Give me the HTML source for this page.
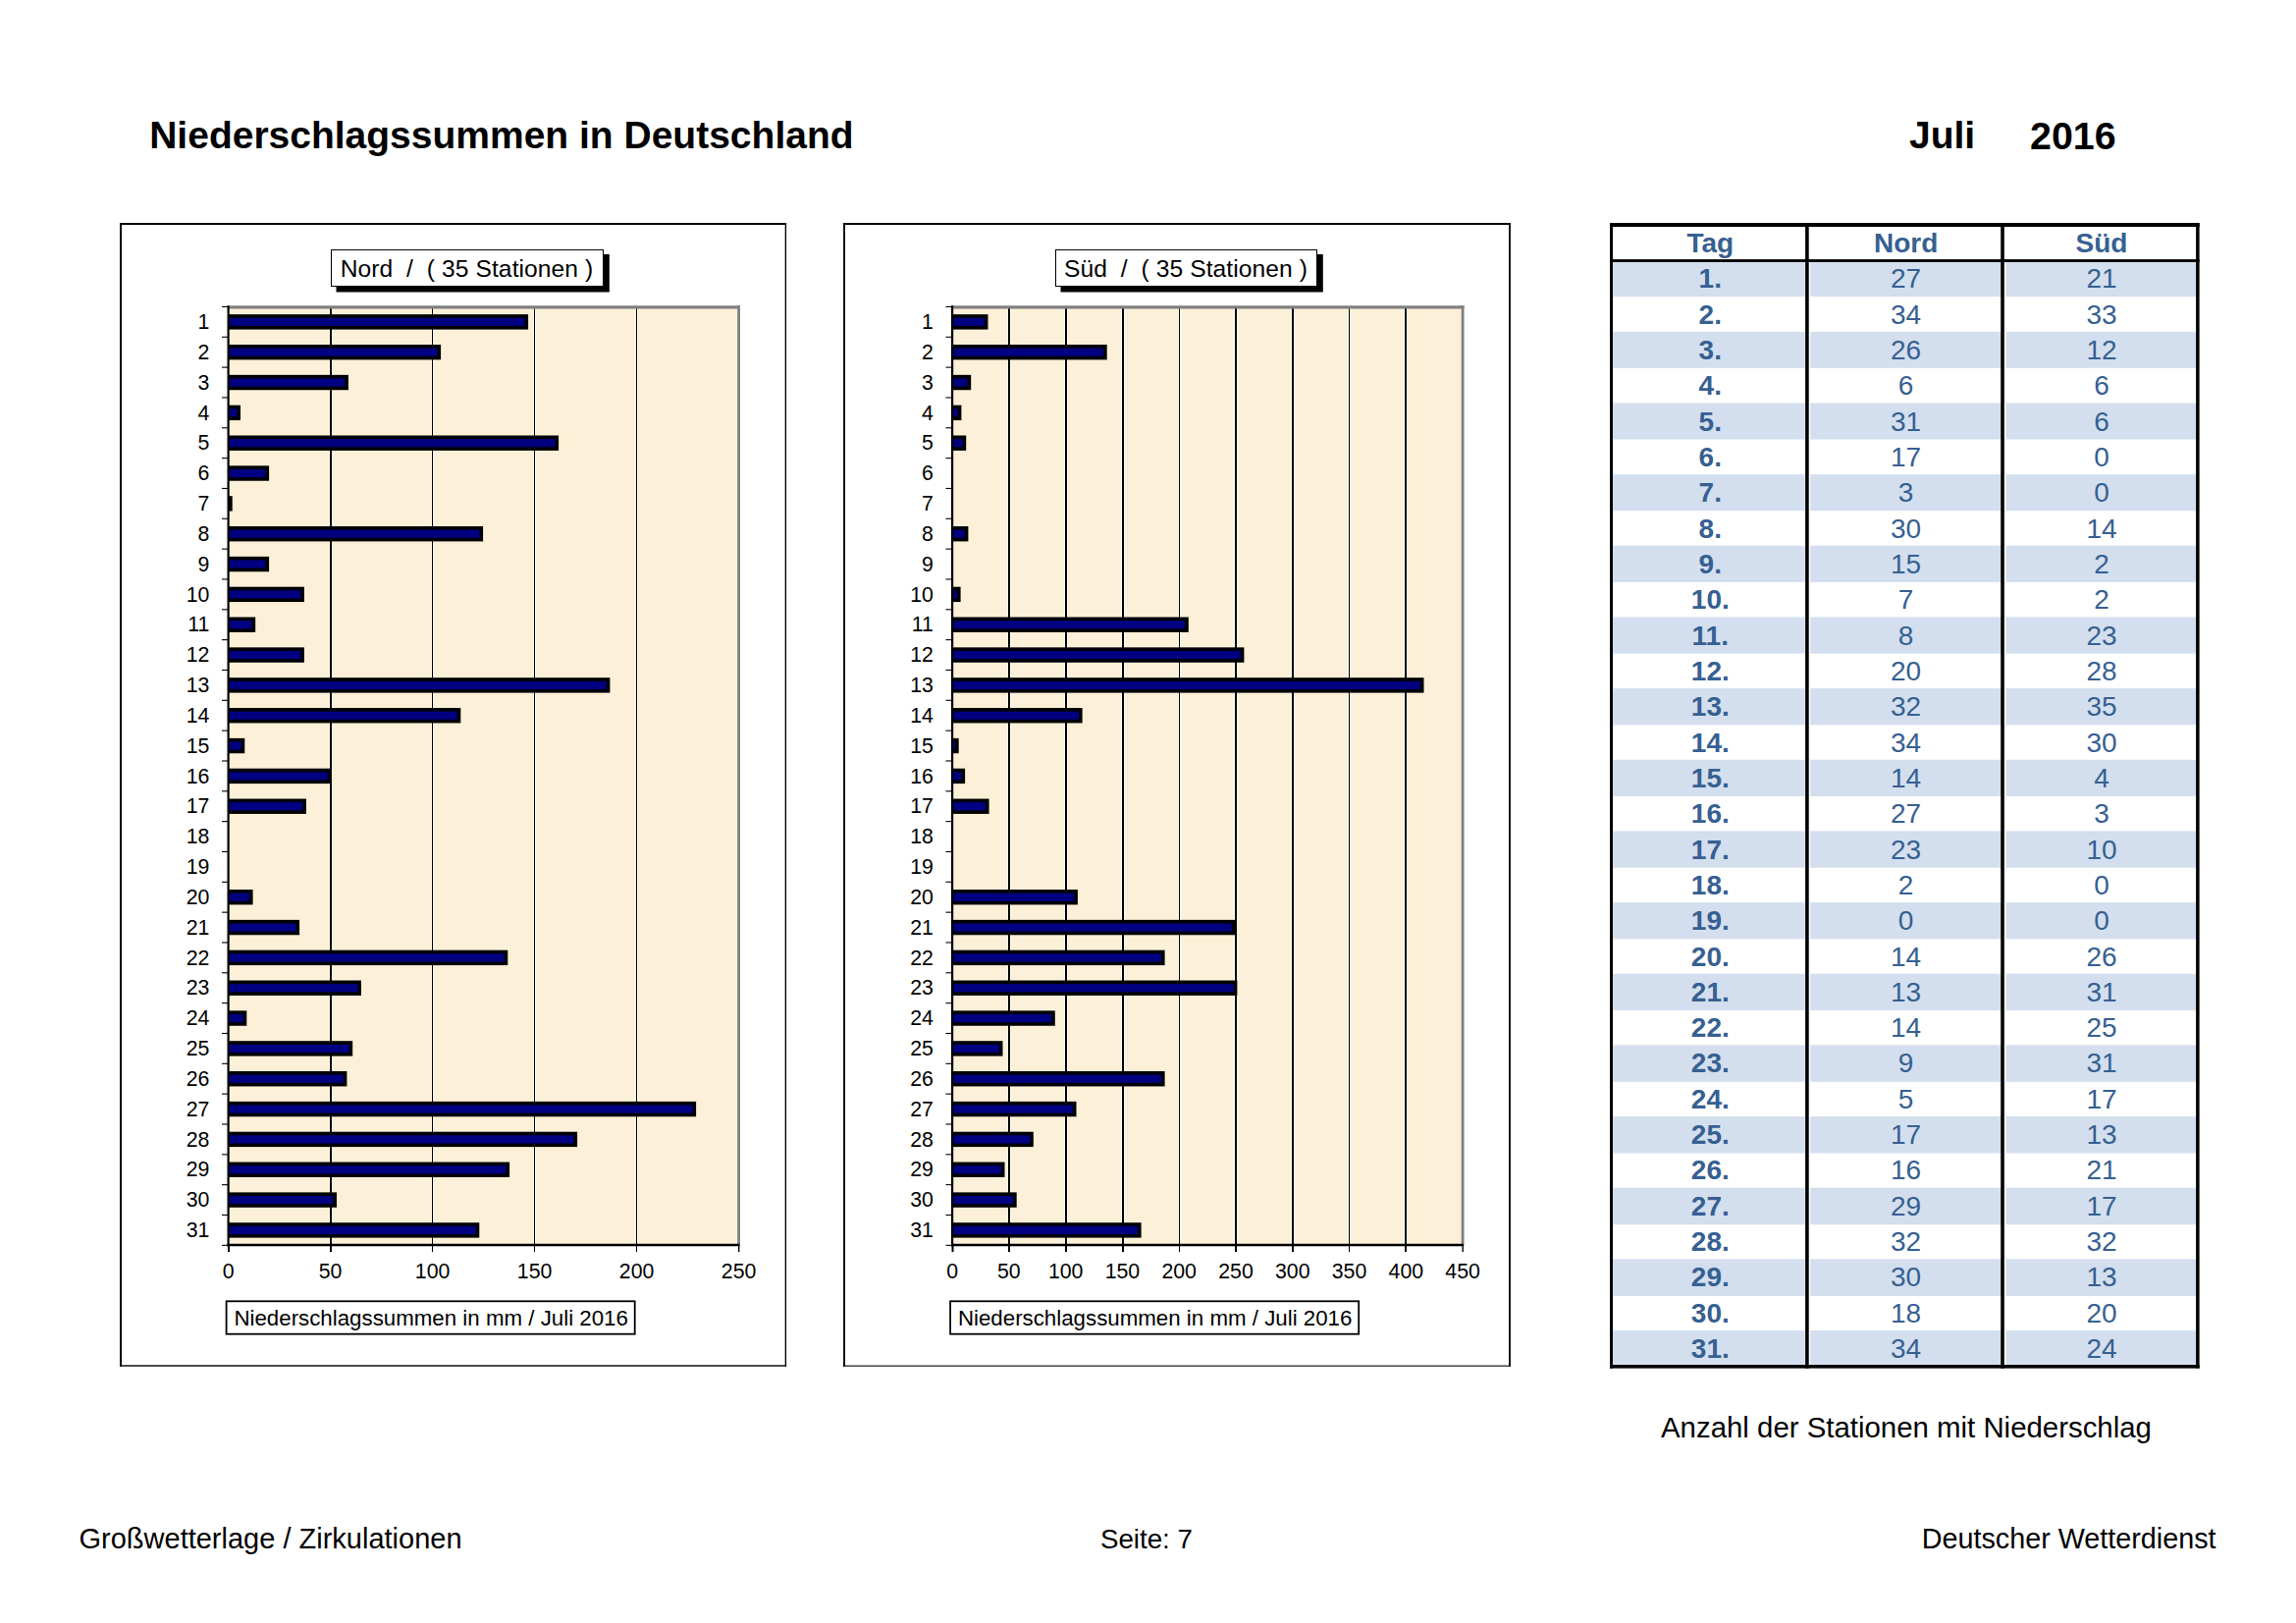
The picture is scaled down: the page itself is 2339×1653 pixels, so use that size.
<!DOCTYPE html><html><head><meta charset="utf-8"><title>Niederschlagssummen in Deutschland</title><style>html,body{margin:0;padding:0;background:#fff;} #page{position:relative;width:2339px;height:1653px;overflow:hidden;background:#fff;font-family:"Liberation Sans", sans-serif;} .t{position:absolute;white-space:pre;} svg{position:absolute;left:0;top:0;} svg text{font-family:"Liberation Sans", sans-serif;}</style></head><body><div id="page"><svg width="2339" height="1653" viewBox="0 0 2339 1653">
<rect x="122" y="227" width="679.1" height="2" fill="#000"/>
<rect x="122" y="227" width="2" height="1164.7" fill="#000"/>
<rect x="799.70" y="227" width="1.4" height="1164.7" fill="#000"/>
<rect x="122" y="1390.30" width="679.1" height="1.4" fill="#000"/>
<rect x="232.60" y="313" width="520.00" height="955.00" fill="#FCF1D8"/>
<rect x="335" y="314" width="4" height="953" fill="#FFFDF1"/>
<rect x="336" y="314" width="2" height="953" fill="#000"/>
<rect x="439" y="314" width="3" height="953" fill="#FFFDF1"/>
<rect x="440" y="314" width="1" height="953" fill="#000"/>
<rect x="543" y="314" width="3" height="953" fill="#FFFDF1"/>
<rect x="544" y="314" width="1" height="953" fill="#000"/>
<rect x="647" y="314" width="3" height="953" fill="#FFFDF1"/>
<rect x="648" y="314" width="1" height="953" fill="#000"/>
<line x1="232.60" y1="312.9" x2="754.00" y2="312.9" stroke="#808080" stroke-width="3.2"/>
<line x1="752.60" y1="311.3" x2="752.60" y2="1268" stroke="#808080" stroke-width="2.8"/>
<rect x="232.60" y="320.17" width="305.50" height="15.40" fill="#000"/>
<rect x="233.70" y="323.77" width="300.80" height="8.20" fill="#000080"/>
<rect x="232.60" y="351.00" width="216.50" height="15.40" fill="#000"/>
<rect x="233.70" y="354.60" width="211.80" height="8.20" fill="#000080"/>
<rect x="232.60" y="381.84" width="122.30" height="15.40" fill="#000"/>
<rect x="233.70" y="385.44" width="117.60" height="8.20" fill="#000080"/>
<rect x="232.60" y="412.67" width="12.40" height="15.40" fill="#000"/>
<rect x="233.70" y="416.27" width="7.70" height="8.20" fill="#000080"/>
<rect x="232.60" y="443.51" width="336.50" height="15.40" fill="#000"/>
<rect x="233.70" y="447.11" width="331.80" height="8.20" fill="#000080"/>
<rect x="232.60" y="474.34" width="41.50" height="15.40" fill="#000"/>
<rect x="233.70" y="477.94" width="36.80" height="8.20" fill="#000080"/>
<rect x="232.60" y="505.18" width="4.10" height="15.40" fill="#000"/>
<rect x="232.60" y="536.01" width="259.50" height="15.40" fill="#000"/>
<rect x="233.70" y="539.61" width="254.80" height="8.20" fill="#000080"/>
<rect x="232.60" y="566.85" width="41.50" height="15.40" fill="#000"/>
<rect x="233.70" y="570.45" width="36.80" height="8.20" fill="#000080"/>
<rect x="232.60" y="597.68" width="77.30" height="15.40" fill="#000"/>
<rect x="233.70" y="601.28" width="72.60" height="8.20" fill="#000080"/>
<rect x="232.60" y="628.52" width="27.60" height="15.40" fill="#000"/>
<rect x="233.70" y="632.12" width="22.90" height="8.20" fill="#000080"/>
<rect x="232.60" y="659.35" width="77.30" height="15.40" fill="#000"/>
<rect x="233.70" y="662.95" width="72.60" height="8.20" fill="#000080"/>
<rect x="232.60" y="690.19" width="388.80" height="15.40" fill="#000"/>
<rect x="233.70" y="693.79" width="384.10" height="8.20" fill="#000080"/>
<rect x="232.60" y="721.02" width="236.70" height="15.40" fill="#000"/>
<rect x="233.70" y="724.62" width="232.00" height="8.20" fill="#000080"/>
<rect x="232.60" y="751.86" width="16.70" height="15.40" fill="#000"/>
<rect x="233.70" y="755.46" width="12.00" height="8.20" fill="#000080"/>
<rect x="232.60" y="782.69" width="104.60" height="15.40" fill="#000"/>
<rect x="233.70" y="786.29" width="99.90" height="8.20" fill="#000080"/>
<rect x="232.60" y="813.53" width="79.40" height="15.40" fill="#000"/>
<rect x="233.70" y="817.13" width="74.70" height="8.20" fill="#000080"/>
<rect x="232.60" y="906.03" width="25.00" height="15.40" fill="#000"/>
<rect x="233.70" y="909.63" width="20.30" height="8.20" fill="#000080"/>
<rect x="232.60" y="936.87" width="72.50" height="15.40" fill="#000"/>
<rect x="233.70" y="940.47" width="67.80" height="8.20" fill="#000080"/>
<rect x="232.60" y="967.70" width="284.70" height="15.40" fill="#000"/>
<rect x="233.70" y="971.30" width="280.00" height="8.20" fill="#000080"/>
<rect x="232.60" y="998.54" width="135.40" height="15.40" fill="#000"/>
<rect x="233.70" y="1002.14" width="130.70" height="8.20" fill="#000080"/>
<rect x="232.60" y="1029.37" width="18.70" height="15.40" fill="#000"/>
<rect x="233.70" y="1032.97" width="14.00" height="8.20" fill="#000080"/>
<rect x="232.60" y="1060.21" width="126.60" height="15.40" fill="#000"/>
<rect x="233.70" y="1063.81" width="121.90" height="8.20" fill="#000080"/>
<rect x="232.60" y="1091.04" width="120.80" height="15.40" fill="#000"/>
<rect x="233.70" y="1094.64" width="116.10" height="8.20" fill="#000080"/>
<rect x="232.60" y="1121.88" width="476.50" height="15.40" fill="#000"/>
<rect x="233.70" y="1125.48" width="471.80" height="8.20" fill="#000080"/>
<rect x="232.60" y="1152.71" width="355.50" height="15.40" fill="#000"/>
<rect x="233.70" y="1156.31" width="350.80" height="8.20" fill="#000080"/>
<rect x="232.60" y="1183.55" width="286.50" height="15.40" fill="#000"/>
<rect x="233.70" y="1187.15" width="281.80" height="8.20" fill="#000080"/>
<rect x="232.60" y="1214.38" width="110.40" height="15.40" fill="#000"/>
<rect x="233.70" y="1217.98" width="105.70" height="8.20" fill="#000080"/>
<rect x="232.60" y="1245.22" width="255.70" height="15.40" fill="#000"/>
<rect x="233.70" y="1248.82" width="251.00" height="8.20" fill="#000080"/>
<line x1="232.60" y1="311.2" x2="232.60" y2="1269.4" stroke="#000" stroke-width="2.2"/>
<line x1="231.50" y1="1268" x2="753.60" y2="1268" stroke="#000" stroke-width="2.7"/>
<line x1="226.00" y1="312.45" x2="232.60" y2="312.45" stroke="#000" stroke-width="1.1"/>
<line x1="226.00" y1="343.28" x2="232.60" y2="343.28" stroke="#000" stroke-width="1.1"/>
<line x1="226.00" y1="374.12" x2="232.60" y2="374.12" stroke="#000" stroke-width="1.1"/>
<line x1="226.00" y1="404.95" x2="232.60" y2="404.95" stroke="#000" stroke-width="1.1"/>
<line x1="226.00" y1="435.79" x2="232.60" y2="435.79" stroke="#000" stroke-width="1.1"/>
<line x1="226.00" y1="466.62" x2="232.60" y2="466.62" stroke="#000" stroke-width="1.1"/>
<line x1="226.00" y1="497.46" x2="232.60" y2="497.46" stroke="#000" stroke-width="1.1"/>
<line x1="226.00" y1="528.29" x2="232.60" y2="528.29" stroke="#000" stroke-width="1.1"/>
<line x1="226.00" y1="559.13" x2="232.60" y2="559.13" stroke="#000" stroke-width="1.1"/>
<line x1="226.00" y1="589.96" x2="232.60" y2="589.96" stroke="#000" stroke-width="1.1"/>
<line x1="226.00" y1="620.80" x2="232.60" y2="620.80" stroke="#000" stroke-width="1.1"/>
<line x1="226.00" y1="651.63" x2="232.60" y2="651.63" stroke="#000" stroke-width="1.1"/>
<line x1="226.00" y1="682.47" x2="232.60" y2="682.47" stroke="#000" stroke-width="1.1"/>
<line x1="226.00" y1="713.31" x2="232.60" y2="713.31" stroke="#000" stroke-width="1.1"/>
<line x1="226.00" y1="744.14" x2="232.60" y2="744.14" stroke="#000" stroke-width="1.1"/>
<line x1="226.00" y1="774.98" x2="232.60" y2="774.98" stroke="#000" stroke-width="1.1"/>
<line x1="226.00" y1="805.81" x2="232.60" y2="805.81" stroke="#000" stroke-width="1.1"/>
<line x1="226.00" y1="836.64" x2="232.60" y2="836.64" stroke="#000" stroke-width="1.1"/>
<line x1="226.00" y1="867.48" x2="232.60" y2="867.48" stroke="#000" stroke-width="1.1"/>
<line x1="226.00" y1="898.32" x2="232.60" y2="898.32" stroke="#000" stroke-width="1.1"/>
<line x1="226.00" y1="929.15" x2="232.60" y2="929.15" stroke="#000" stroke-width="1.1"/>
<line x1="226.00" y1="959.98" x2="232.60" y2="959.98" stroke="#000" stroke-width="1.1"/>
<line x1="226.00" y1="990.82" x2="232.60" y2="990.82" stroke="#000" stroke-width="1.1"/>
<line x1="226.00" y1="1021.65" x2="232.60" y2="1021.65" stroke="#000" stroke-width="1.1"/>
<line x1="226.00" y1="1052.49" x2="232.60" y2="1052.49" stroke="#000" stroke-width="1.1"/>
<line x1="226.00" y1="1083.33" x2="232.60" y2="1083.33" stroke="#000" stroke-width="1.1"/>
<line x1="226.00" y1="1114.16" x2="232.60" y2="1114.16" stroke="#000" stroke-width="1.1"/>
<line x1="226.00" y1="1145.00" x2="232.60" y2="1145.00" stroke="#000" stroke-width="1.1"/>
<line x1="226.00" y1="1175.83" x2="232.60" y2="1175.83" stroke="#000" stroke-width="1.1"/>
<line x1="226.00" y1="1206.66" x2="232.60" y2="1206.66" stroke="#000" stroke-width="1.1"/>
<line x1="226.00" y1="1237.50" x2="232.60" y2="1237.50" stroke="#000" stroke-width="1.1"/>
<line x1="226.00" y1="1268.34" x2="232.60" y2="1268.34" stroke="#000" stroke-width="1.1"/>
<rect x="232.00" y="1268" width="2" height="7" fill="#000"/>
<rect x="336.00" y="1268" width="2" height="7" fill="#000"/>
<rect x="440.00" y="1268" width="1" height="7" fill="#000"/>
<rect x="544.00" y="1268" width="1" height="7" fill="#000"/>
<rect x="648.00" y="1268" width="1" height="7" fill="#000"/>
<rect x="752.00" y="1268" width="1.4" height="7" fill="#000"/>
<text x="213.40" y="335.07" font-size="21.3" text-anchor="end" font-weight="normal" fill="#000" style="white-space:pre">1</text>
<text x="213.40" y="365.90" font-size="21.3" text-anchor="end" font-weight="normal" fill="#000" style="white-space:pre">2</text>
<text x="213.40" y="396.74" font-size="21.3" text-anchor="end" font-weight="normal" fill="#000" style="white-space:pre">3</text>
<text x="213.40" y="427.57" font-size="21.3" text-anchor="end" font-weight="normal" fill="#000" style="white-space:pre">4</text>
<text x="213.40" y="458.41" font-size="21.3" text-anchor="end" font-weight="normal" fill="#000" style="white-space:pre">5</text>
<text x="213.40" y="489.24" font-size="21.3" text-anchor="end" font-weight="normal" fill="#000" style="white-space:pre">6</text>
<text x="213.40" y="520.08" font-size="21.3" text-anchor="end" font-weight="normal" fill="#000" style="white-space:pre">7</text>
<text x="213.40" y="550.91" font-size="21.3" text-anchor="end" font-weight="normal" fill="#000" style="white-space:pre">8</text>
<text x="213.40" y="581.75" font-size="21.3" text-anchor="end" font-weight="normal" fill="#000" style="white-space:pre">9</text>
<text x="213.40" y="612.58" font-size="21.3" text-anchor="end" font-weight="normal" fill="#000" style="white-space:pre">10</text>
<text x="213.40" y="643.42" font-size="21.3" text-anchor="end" font-weight="normal" fill="#000" style="white-space:pre">11</text>
<text x="213.40" y="674.25" font-size="21.3" text-anchor="end" font-weight="normal" fill="#000" style="white-space:pre">12</text>
<text x="213.40" y="705.09" font-size="21.3" text-anchor="end" font-weight="normal" fill="#000" style="white-space:pre">13</text>
<text x="213.40" y="735.92" font-size="21.3" text-anchor="end" font-weight="normal" fill="#000" style="white-space:pre">14</text>
<text x="213.40" y="766.76" font-size="21.3" text-anchor="end" font-weight="normal" fill="#000" style="white-space:pre">15</text>
<text x="213.40" y="797.59" font-size="21.3" text-anchor="end" font-weight="normal" fill="#000" style="white-space:pre">16</text>
<text x="213.40" y="828.43" font-size="21.3" text-anchor="end" font-weight="normal" fill="#000" style="white-space:pre">17</text>
<text x="213.40" y="859.26" font-size="21.3" text-anchor="end" font-weight="normal" fill="#000" style="white-space:pre">18</text>
<text x="213.40" y="890.10" font-size="21.3" text-anchor="end" font-weight="normal" fill="#000" style="white-space:pre">19</text>
<text x="213.40" y="920.93" font-size="21.3" text-anchor="end" font-weight="normal" fill="#000" style="white-space:pre">20</text>
<text x="213.40" y="951.77" font-size="21.3" text-anchor="end" font-weight="normal" fill="#000" style="white-space:pre">21</text>
<text x="213.40" y="982.60" font-size="21.3" text-anchor="end" font-weight="normal" fill="#000" style="white-space:pre">22</text>
<text x="213.40" y="1013.44" font-size="21.3" text-anchor="end" font-weight="normal" fill="#000" style="white-space:pre">23</text>
<text x="213.40" y="1044.27" font-size="21.3" text-anchor="end" font-weight="normal" fill="#000" style="white-space:pre">24</text>
<text x="213.40" y="1075.11" font-size="21.3" text-anchor="end" font-weight="normal" fill="#000" style="white-space:pre">25</text>
<text x="213.40" y="1105.94" font-size="21.3" text-anchor="end" font-weight="normal" fill="#000" style="white-space:pre">26</text>
<text x="213.40" y="1136.78" font-size="21.3" text-anchor="end" font-weight="normal" fill="#000" style="white-space:pre">27</text>
<text x="213.40" y="1167.61" font-size="21.3" text-anchor="end" font-weight="normal" fill="#000" style="white-space:pre">28</text>
<text x="213.40" y="1198.45" font-size="21.3" text-anchor="end" font-weight="normal" fill="#000" style="white-space:pre">29</text>
<text x="213.40" y="1229.28" font-size="21.3" text-anchor="end" font-weight="normal" fill="#000" style="white-space:pre">30</text>
<text x="213.40" y="1260.12" font-size="21.3" text-anchor="end" font-weight="normal" fill="#000" style="white-space:pre">31</text>
<text x="232.60" y="1302.00" font-size="21.3" text-anchor="middle" font-weight="normal" fill="#000" style="white-space:pre">0</text>
<text x="336.60" y="1302.00" font-size="21.3" text-anchor="middle" font-weight="normal" fill="#000" style="white-space:pre">50</text>
<text x="440.60" y="1302.00" font-size="21.3" text-anchor="middle" font-weight="normal" fill="#000" style="white-space:pre">100</text>
<text x="544.60" y="1302.00" font-size="21.3" text-anchor="middle" font-weight="normal" fill="#000" style="white-space:pre">150</text>
<text x="648.60" y="1302.00" font-size="21.3" text-anchor="middle" font-weight="normal" fill="#000" style="white-space:pre">200</text>
<text x="752.60" y="1302.00" font-size="21.3" text-anchor="middle" font-weight="normal" fill="#000" style="white-space:pre">250</text>
<rect x="342.50" y="259.00" width="278.30" height="38.50" fill="#000"/>
<rect x="337.50" y="254.50" width="277.00" height="37.00" fill="#fff" stroke="#000" stroke-width="1"/>
<text x="475.50" y="282.00" font-size="24.6" text-anchor="middle" font-weight="normal" fill="#000" letter-spacing="0.08" style="white-space:pre">Nord  /  ( 35 Stationen )</text>
<rect x="230.60" y="1325.3" width="416.10" height="33.40" fill="#fff" stroke="#000" stroke-width="1.8"/>
<text x="439.15" y="1349.80" font-size="22.3" text-anchor="middle" font-weight="normal" fill="#000" style="white-space:pre">Niederschlagssummen in mm / Juli 2016</text>
<rect x="859.1" y="227" width="679.8000000000001" height="2" fill="#000"/>
<rect x="859.1" y="227" width="1.9" height="1164.7" fill="#000"/>
<rect x="1537.10" y="227" width="1.8" height="1164.7" fill="#000"/>
<rect x="859.1" y="1390.60" width="679.8000000000001" height="1.1" fill="#000"/>
<rect x="970.10" y="313" width="520.00" height="955.00" fill="#FCF1D8"/>
<rect x="1026" y="314" width="4" height="953" fill="#FFFDF1"/>
<rect x="1027" y="314" width="2" height="953" fill="#000"/>
<rect x="1084" y="314" width="4" height="953" fill="#FFFDF1"/>
<rect x="1085" y="314" width="2" height="953" fill="#000"/>
<rect x="1142" y="314" width="4" height="953" fill="#FFFDF1"/>
<rect x="1143" y="314" width="2" height="953" fill="#000"/>
<rect x="1200" y="314" width="3" height="953" fill="#FFFDF1"/>
<rect x="1201" y="314" width="1" height="953" fill="#000"/>
<rect x="1257" y="314" width="4" height="953" fill="#FFFDF1"/>
<rect x="1258" y="314" width="2" height="953" fill="#000"/>
<rect x="1315" y="314" width="4" height="953" fill="#FFFDF1"/>
<rect x="1316" y="314" width="2" height="953" fill="#000"/>
<rect x="1373" y="314" width="3" height="953" fill="#FFFDF1"/>
<rect x="1374" y="314" width="1" height="953" fill="#000"/>
<rect x="1430" y="314" width="4" height="953" fill="#FFFDF1"/>
<rect x="1431" y="314" width="2" height="953" fill="#000"/>
<line x1="970.10" y1="312.9" x2="1491.50" y2="312.9" stroke="#808080" stroke-width="3.2"/>
<line x1="1490.10" y1="311.3" x2="1490.10" y2="1268" stroke="#808080" stroke-width="2.8"/>
<rect x="970.10" y="320.17" width="36.40" height="15.40" fill="#000"/>
<rect x="971.20" y="323.77" width="31.70" height="8.20" fill="#000080"/>
<rect x="970.10" y="351.00" width="157.60" height="15.40" fill="#000"/>
<rect x="971.20" y="354.60" width="152.90" height="8.20" fill="#000080"/>
<rect x="970.10" y="381.84" width="19.10" height="15.40" fill="#000"/>
<rect x="971.20" y="385.44" width="14.40" height="8.20" fill="#000080"/>
<rect x="970.10" y="412.67" width="9.30" height="15.40" fill="#000"/>
<rect x="971.20" y="416.27" width="4.60" height="8.20" fill="#000080"/>
<rect x="970.10" y="443.51" width="14.10" height="15.40" fill="#000"/>
<rect x="971.20" y="447.11" width="9.40" height="8.20" fill="#000080"/>
<rect x="970.10" y="536.01" width="16.30" height="15.40" fill="#000"/>
<rect x="971.20" y="539.61" width="11.60" height="8.20" fill="#000080"/>
<rect x="970.10" y="597.68" width="8.50" height="15.40" fill="#000"/>
<rect x="971.20" y="601.28" width="3.80" height="8.20" fill="#000080"/>
<rect x="970.10" y="628.52" width="240.70" height="15.40" fill="#000"/>
<rect x="971.20" y="632.12" width="236.00" height="8.20" fill="#000080"/>
<rect x="970.10" y="659.35" width="297.30" height="15.40" fill="#000"/>
<rect x="971.20" y="662.95" width="292.60" height="8.20" fill="#000080"/>
<rect x="970.10" y="690.19" width="480.40" height="15.40" fill="#000"/>
<rect x="971.20" y="693.79" width="475.70" height="8.20" fill="#000080"/>
<rect x="970.10" y="721.02" width="132.50" height="15.40" fill="#000"/>
<rect x="971.20" y="724.62" width="127.80" height="8.20" fill="#000080"/>
<rect x="970.10" y="751.86" width="6.60" height="15.40" fill="#000"/>
<rect x="971.20" y="755.46" width="1.90" height="8.20" fill="#000080"/>
<rect x="970.10" y="782.69" width="13.00" height="15.40" fill="#000"/>
<rect x="971.20" y="786.29" width="8.30" height="8.20" fill="#000080"/>
<rect x="970.10" y="813.53" width="37.50" height="15.40" fill="#000"/>
<rect x="971.20" y="817.13" width="32.80" height="8.20" fill="#000080"/>
<rect x="970.10" y="906.03" width="127.80" height="15.40" fill="#000"/>
<rect x="971.20" y="909.63" width="123.10" height="8.20" fill="#000080"/>
<rect x="970.10" y="936.87" width="288.10" height="15.40" fill="#000"/>
<rect x="971.20" y="940.47" width="283.40" height="8.20" fill="#000080"/>
<rect x="970.10" y="967.70" width="216.50" height="15.40" fill="#000"/>
<rect x="971.20" y="971.30" width="211.80" height="8.20" fill="#000080"/>
<rect x="970.10" y="998.54" width="290.30" height="15.40" fill="#000"/>
<rect x="971.20" y="1002.14" width="285.60" height="8.20" fill="#000080"/>
<rect x="970.10" y="1029.37" width="104.70" height="15.40" fill="#000"/>
<rect x="971.20" y="1032.97" width="100.00" height="8.20" fill="#000080"/>
<rect x="970.10" y="1060.21" width="51.40" height="15.40" fill="#000"/>
<rect x="971.20" y="1063.81" width="46.70" height="8.20" fill="#000080"/>
<rect x="970.10" y="1091.04" width="216.50" height="15.40" fill="#000"/>
<rect x="971.20" y="1094.64" width="211.80" height="8.20" fill="#000080"/>
<rect x="970.10" y="1121.88" width="126.40" height="15.40" fill="#000"/>
<rect x="971.20" y="1125.48" width="121.70" height="8.20" fill="#000080"/>
<rect x="970.10" y="1152.71" width="82.70" height="15.40" fill="#000"/>
<rect x="971.20" y="1156.31" width="78.00" height="8.20" fill="#000080"/>
<rect x="970.10" y="1183.55" width="53.40" height="15.40" fill="#000"/>
<rect x="971.20" y="1187.15" width="48.70" height="8.20" fill="#000080"/>
<rect x="970.10" y="1214.38" width="65.60" height="15.40" fill="#000"/>
<rect x="971.20" y="1217.98" width="60.90" height="8.20" fill="#000080"/>
<rect x="970.10" y="1245.22" width="192.50" height="15.40" fill="#000"/>
<rect x="971.20" y="1248.82" width="187.80" height="8.20" fill="#000080"/>
<line x1="970.10" y1="311.2" x2="970.10" y2="1269.4" stroke="#000" stroke-width="2.2"/>
<line x1="969.00" y1="1268" x2="1491.10" y2="1268" stroke="#000" stroke-width="2.7"/>
<line x1="963.50" y1="312.45" x2="970.10" y2="312.45" stroke="#000" stroke-width="1.1"/>
<line x1="963.50" y1="343.28" x2="970.10" y2="343.28" stroke="#000" stroke-width="1.1"/>
<line x1="963.50" y1="374.12" x2="970.10" y2="374.12" stroke="#000" stroke-width="1.1"/>
<line x1="963.50" y1="404.95" x2="970.10" y2="404.95" stroke="#000" stroke-width="1.1"/>
<line x1="963.50" y1="435.79" x2="970.10" y2="435.79" stroke="#000" stroke-width="1.1"/>
<line x1="963.50" y1="466.62" x2="970.10" y2="466.62" stroke="#000" stroke-width="1.1"/>
<line x1="963.50" y1="497.46" x2="970.10" y2="497.46" stroke="#000" stroke-width="1.1"/>
<line x1="963.50" y1="528.29" x2="970.10" y2="528.29" stroke="#000" stroke-width="1.1"/>
<line x1="963.50" y1="559.13" x2="970.10" y2="559.13" stroke="#000" stroke-width="1.1"/>
<line x1="963.50" y1="589.96" x2="970.10" y2="589.96" stroke="#000" stroke-width="1.1"/>
<line x1="963.50" y1="620.80" x2="970.10" y2="620.80" stroke="#000" stroke-width="1.1"/>
<line x1="963.50" y1="651.63" x2="970.10" y2="651.63" stroke="#000" stroke-width="1.1"/>
<line x1="963.50" y1="682.47" x2="970.10" y2="682.47" stroke="#000" stroke-width="1.1"/>
<line x1="963.50" y1="713.31" x2="970.10" y2="713.31" stroke="#000" stroke-width="1.1"/>
<line x1="963.50" y1="744.14" x2="970.10" y2="744.14" stroke="#000" stroke-width="1.1"/>
<line x1="963.50" y1="774.98" x2="970.10" y2="774.98" stroke="#000" stroke-width="1.1"/>
<line x1="963.50" y1="805.81" x2="970.10" y2="805.81" stroke="#000" stroke-width="1.1"/>
<line x1="963.50" y1="836.64" x2="970.10" y2="836.64" stroke="#000" stroke-width="1.1"/>
<line x1="963.50" y1="867.48" x2="970.10" y2="867.48" stroke="#000" stroke-width="1.1"/>
<line x1="963.50" y1="898.32" x2="970.10" y2="898.32" stroke="#000" stroke-width="1.1"/>
<line x1="963.50" y1="929.15" x2="970.10" y2="929.15" stroke="#000" stroke-width="1.1"/>
<line x1="963.50" y1="959.98" x2="970.10" y2="959.98" stroke="#000" stroke-width="1.1"/>
<line x1="963.50" y1="990.82" x2="970.10" y2="990.82" stroke="#000" stroke-width="1.1"/>
<line x1="963.50" y1="1021.65" x2="970.10" y2="1021.65" stroke="#000" stroke-width="1.1"/>
<line x1="963.50" y1="1052.49" x2="970.10" y2="1052.49" stroke="#000" stroke-width="1.1"/>
<line x1="963.50" y1="1083.33" x2="970.10" y2="1083.33" stroke="#000" stroke-width="1.1"/>
<line x1="963.50" y1="1114.16" x2="970.10" y2="1114.16" stroke="#000" stroke-width="1.1"/>
<line x1="963.50" y1="1145.00" x2="970.10" y2="1145.00" stroke="#000" stroke-width="1.1"/>
<line x1="963.50" y1="1175.83" x2="970.10" y2="1175.83" stroke="#000" stroke-width="1.1"/>
<line x1="963.50" y1="1206.66" x2="970.10" y2="1206.66" stroke="#000" stroke-width="1.1"/>
<line x1="963.50" y1="1237.50" x2="970.10" y2="1237.50" stroke="#000" stroke-width="1.1"/>
<line x1="963.50" y1="1268.34" x2="970.10" y2="1268.34" stroke="#000" stroke-width="1.1"/>
<rect x="969.50" y="1268" width="2" height="7" fill="#000"/>
<rect x="1027.00" y="1268" width="2" height="7" fill="#000"/>
<rect x="1085.00" y="1268" width="2" height="7" fill="#000"/>
<rect x="1143.00" y="1268" width="2" height="7" fill="#000"/>
<rect x="1201.00" y="1268" width="1" height="7" fill="#000"/>
<rect x="1258.00" y="1268" width="2" height="7" fill="#000"/>
<rect x="1316.00" y="1268" width="2" height="7" fill="#000"/>
<rect x="1374.00" y="1268" width="1" height="7" fill="#000"/>
<rect x="1431.00" y="1268" width="2" height="7" fill="#000"/>
<rect x="1489.50" y="1268" width="1.4" height="7" fill="#000"/>
<text x="950.90" y="335.07" font-size="21.3" text-anchor="end" font-weight="normal" fill="#000" style="white-space:pre">1</text>
<text x="950.90" y="365.90" font-size="21.3" text-anchor="end" font-weight="normal" fill="#000" style="white-space:pre">2</text>
<text x="950.90" y="396.74" font-size="21.3" text-anchor="end" font-weight="normal" fill="#000" style="white-space:pre">3</text>
<text x="950.90" y="427.57" font-size="21.3" text-anchor="end" font-weight="normal" fill="#000" style="white-space:pre">4</text>
<text x="950.90" y="458.41" font-size="21.3" text-anchor="end" font-weight="normal" fill="#000" style="white-space:pre">5</text>
<text x="950.90" y="489.24" font-size="21.3" text-anchor="end" font-weight="normal" fill="#000" style="white-space:pre">6</text>
<text x="950.90" y="520.08" font-size="21.3" text-anchor="end" font-weight="normal" fill="#000" style="white-space:pre">7</text>
<text x="950.90" y="550.91" font-size="21.3" text-anchor="end" font-weight="normal" fill="#000" style="white-space:pre">8</text>
<text x="950.90" y="581.75" font-size="21.3" text-anchor="end" font-weight="normal" fill="#000" style="white-space:pre">9</text>
<text x="950.90" y="612.58" font-size="21.3" text-anchor="end" font-weight="normal" fill="#000" style="white-space:pre">10</text>
<text x="950.90" y="643.42" font-size="21.3" text-anchor="end" font-weight="normal" fill="#000" style="white-space:pre">11</text>
<text x="950.90" y="674.25" font-size="21.3" text-anchor="end" font-weight="normal" fill="#000" style="white-space:pre">12</text>
<text x="950.90" y="705.09" font-size="21.3" text-anchor="end" font-weight="normal" fill="#000" style="white-space:pre">13</text>
<text x="950.90" y="735.92" font-size="21.3" text-anchor="end" font-weight="normal" fill="#000" style="white-space:pre">14</text>
<text x="950.90" y="766.76" font-size="21.3" text-anchor="end" font-weight="normal" fill="#000" style="white-space:pre">15</text>
<text x="950.90" y="797.59" font-size="21.3" text-anchor="end" font-weight="normal" fill="#000" style="white-space:pre">16</text>
<text x="950.90" y="828.43" font-size="21.3" text-anchor="end" font-weight="normal" fill="#000" style="white-space:pre">17</text>
<text x="950.90" y="859.26" font-size="21.3" text-anchor="end" font-weight="normal" fill="#000" style="white-space:pre">18</text>
<text x="950.90" y="890.10" font-size="21.3" text-anchor="end" font-weight="normal" fill="#000" style="white-space:pre">19</text>
<text x="950.90" y="920.93" font-size="21.3" text-anchor="end" font-weight="normal" fill="#000" style="white-space:pre">20</text>
<text x="950.90" y="951.77" font-size="21.3" text-anchor="end" font-weight="normal" fill="#000" style="white-space:pre">21</text>
<text x="950.90" y="982.60" font-size="21.3" text-anchor="end" font-weight="normal" fill="#000" style="white-space:pre">22</text>
<text x="950.90" y="1013.44" font-size="21.3" text-anchor="end" font-weight="normal" fill="#000" style="white-space:pre">23</text>
<text x="950.90" y="1044.27" font-size="21.3" text-anchor="end" font-weight="normal" fill="#000" style="white-space:pre">24</text>
<text x="950.90" y="1075.11" font-size="21.3" text-anchor="end" font-weight="normal" fill="#000" style="white-space:pre">25</text>
<text x="950.90" y="1105.94" font-size="21.3" text-anchor="end" font-weight="normal" fill="#000" style="white-space:pre">26</text>
<text x="950.90" y="1136.78" font-size="21.3" text-anchor="end" font-weight="normal" fill="#000" style="white-space:pre">27</text>
<text x="950.90" y="1167.61" font-size="21.3" text-anchor="end" font-weight="normal" fill="#000" style="white-space:pre">28</text>
<text x="950.90" y="1198.45" font-size="21.3" text-anchor="end" font-weight="normal" fill="#000" style="white-space:pre">29</text>
<text x="950.90" y="1229.28" font-size="21.3" text-anchor="end" font-weight="normal" fill="#000" style="white-space:pre">30</text>
<text x="950.90" y="1260.12" font-size="21.3" text-anchor="end" font-weight="normal" fill="#000" style="white-space:pre">31</text>
<text x="970.10" y="1302.00" font-size="21.3" text-anchor="middle" font-weight="normal" fill="#000" style="white-space:pre">0</text>
<text x="1027.88" y="1302.00" font-size="21.3" text-anchor="middle" font-weight="normal" fill="#000" style="white-space:pre">50</text>
<text x="1085.66" y="1302.00" font-size="21.3" text-anchor="middle" font-weight="normal" fill="#000" style="white-space:pre">100</text>
<text x="1143.43" y="1302.00" font-size="21.3" text-anchor="middle" font-weight="normal" fill="#000" style="white-space:pre">150</text>
<text x="1201.21" y="1302.00" font-size="21.3" text-anchor="middle" font-weight="normal" fill="#000" style="white-space:pre">200</text>
<text x="1258.99" y="1302.00" font-size="21.3" text-anchor="middle" font-weight="normal" fill="#000" style="white-space:pre">250</text>
<text x="1316.77" y="1302.00" font-size="21.3" text-anchor="middle" font-weight="normal" fill="#000" style="white-space:pre">300</text>
<text x="1374.54" y="1302.00" font-size="21.3" text-anchor="middle" font-weight="normal" fill="#000" style="white-space:pre">350</text>
<text x="1432.32" y="1302.00" font-size="21.3" text-anchor="middle" font-weight="normal" fill="#000" style="white-space:pre">400</text>
<text x="1490.10" y="1302.00" font-size="21.3" text-anchor="middle" font-weight="normal" fill="#000" style="white-space:pre">450</text>
<rect x="1080.50" y="259.00" width="267.30" height="38.50" fill="#000"/>
<rect x="1075.50" y="254.50" width="266.00" height="37.00" fill="#fff" stroke="#000" stroke-width="1"/>
<text x="1208.00" y="282.00" font-size="24.6" text-anchor="middle" font-weight="normal" fill="#000" letter-spacing="0.08" style="white-space:pre">Süd  /  ( 35 Stationen )</text>
<rect x="968.10" y="1325.3" width="416.10" height="33.40" fill="#fff" stroke="#000" stroke-width="1.8"/>
<text x="1176.65" y="1349.80" font-size="22.3" text-anchor="middle" font-weight="normal" fill="#000" style="white-space:pre">Niederschlagssummen in mm / Juli 2016</text>
<rect x="1641.50" y="265.19" width="597.50" height="36.97" fill="#D3DFEE"/>
<rect x="1641.50" y="337.84" width="597.50" height="37.01" fill="#D3DFEE"/>
<rect x="1641.50" y="410.50" width="597.50" height="37.06" fill="#D3DFEE"/>
<rect x="1641.50" y="483.15" width="597.50" height="37.10" fill="#D3DFEE"/>
<rect x="1641.50" y="555.80" width="597.50" height="37.14" fill="#D3DFEE"/>
<rect x="1641.50" y="628.46" width="597.50" height="37.19" fill="#D3DFEE"/>
<rect x="1641.50" y="701.11" width="597.50" height="37.23" fill="#D3DFEE"/>
<rect x="1641.50" y="773.76" width="597.50" height="37.27" fill="#D3DFEE"/>
<rect x="1641.50" y="846.42" width="597.50" height="37.31" fill="#D3DFEE"/>
<rect x="1641.50" y="919.07" width="597.50" height="37.36" fill="#D3DFEE"/>
<rect x="1641.50" y="991.73" width="597.50" height="37.40" fill="#D3DFEE"/>
<rect x="1641.50" y="1064.38" width="597.50" height="37.44" fill="#D3DFEE"/>
<rect x="1641.50" y="1137.03" width="597.50" height="37.49" fill="#D3DFEE"/>
<rect x="1641.50" y="1209.69" width="597.50" height="37.53" fill="#D3DFEE"/>
<rect x="1641.50" y="1282.34" width="597.50" height="37.57" fill="#D3DFEE"/>
<rect x="1641.50" y="1355.00" width="597.50" height="37.62" fill="#D3DFEE"/>
<rect x="1838.80" y="267.00" width="5.5" height="1125.00" fill="#fff"/>
<rect x="2038.00" y="267.00" width="5.5" height="1125.00" fill="#fff"/>
<rect x="1640" y="227" width="600.6" height="4" fill="#000"/>
<rect x="1640" y="227" width="3" height="1166.6" fill="#000"/>
<rect x="2237.1" y="227" width="3.5" height="1166.6" fill="#000"/>
<rect x="1640" y="1390" width="600.6" height="3.6" fill="#000"/>
<rect x="1640" y="264.1" width="600.6" height="2.9" fill="#000"/>
<rect x="1839.1" y="227" width="3.6" height="1166.6" fill="#000"/>
<rect x="2038.2" y="227" width="3.6" height="1166.6" fill="#000"/>
</svg><div class="t" style="top:117.99px;font-size:39.0px;line-height:39.0px;font-weight:bold;color:#000;left:152.20px;">Niederschlagssummen in Deutschland</div>
<div class="t" style="top:118.29px;font-size:39.0px;line-height:39.0px;font-weight:bold;color:#000;left:1945.00px;">Juli</div>
<div class="t" style="top:118.65px;font-size:39.4px;line-height:39.4px;font-weight:bold;color:#000;left:2068.00px;">2016</div>
<div class="t" style="top:233.90px;font-size:28px;line-height:28px;font-weight:bold;color:#366092;left:1442.30px;width:600px;text-align:center;">Tag</div>
<div class="t" style="top:233.90px;font-size:28px;line-height:28px;font-weight:bold;color:#366092;left:1641.60px;width:600px;text-align:center;">Nord</div>
<div class="t" style="top:233.90px;font-size:28px;line-height:28px;font-weight:bold;color:#366092;left:1841.00px;width:600px;text-align:center;">Süd</div>
<div class="t" style="top:270.30px;font-size:28px;line-height:28px;font-weight:bold;color:#366092;left:1442.30px;width:600px;text-align:center;">1.</div>
<div class="t" style="top:270.30px;font-size:28px;line-height:28px;font-weight:normal;color:#366092;left:1641.60px;width:600px;text-align:center;">27</div>
<div class="t" style="top:270.30px;font-size:28px;line-height:28px;font-weight:normal;color:#366092;left:1841.00px;width:600px;text-align:center;">21</div>
<div class="t" style="top:306.62px;font-size:28px;line-height:28px;font-weight:bold;color:#366092;left:1442.30px;width:600px;text-align:center;">2.</div>
<div class="t" style="top:306.62px;font-size:28px;line-height:28px;font-weight:normal;color:#366092;left:1641.60px;width:600px;text-align:center;">34</div>
<div class="t" style="top:306.62px;font-size:28px;line-height:28px;font-weight:normal;color:#366092;left:1841.00px;width:600px;text-align:center;">33</div>
<div class="t" style="top:342.95px;font-size:28px;line-height:28px;font-weight:bold;color:#366092;left:1442.30px;width:600px;text-align:center;">3.</div>
<div class="t" style="top:342.95px;font-size:28px;line-height:28px;font-weight:normal;color:#366092;left:1641.60px;width:600px;text-align:center;">26</div>
<div class="t" style="top:342.95px;font-size:28px;line-height:28px;font-weight:normal;color:#366092;left:1841.00px;width:600px;text-align:center;">12</div>
<div class="t" style="top:379.28px;font-size:28px;line-height:28px;font-weight:bold;color:#366092;left:1442.30px;width:600px;text-align:center;">4.</div>
<div class="t" style="top:379.28px;font-size:28px;line-height:28px;font-weight:normal;color:#366092;left:1641.60px;width:600px;text-align:center;">6</div>
<div class="t" style="top:379.28px;font-size:28px;line-height:28px;font-weight:normal;color:#366092;left:1841.00px;width:600px;text-align:center;">6</div>
<div class="t" style="top:415.61px;font-size:28px;line-height:28px;font-weight:bold;color:#366092;left:1442.30px;width:600px;text-align:center;">5.</div>
<div class="t" style="top:415.61px;font-size:28px;line-height:28px;font-weight:normal;color:#366092;left:1641.60px;width:600px;text-align:center;">31</div>
<div class="t" style="top:415.61px;font-size:28px;line-height:28px;font-weight:normal;color:#366092;left:1841.00px;width:600px;text-align:center;">6</div>
<div class="t" style="top:451.93px;font-size:28px;line-height:28px;font-weight:bold;color:#366092;left:1442.30px;width:600px;text-align:center;">6.</div>
<div class="t" style="top:451.93px;font-size:28px;line-height:28px;font-weight:normal;color:#366092;left:1641.60px;width:600px;text-align:center;">17</div>
<div class="t" style="top:451.93px;font-size:28px;line-height:28px;font-weight:normal;color:#366092;left:1841.00px;width:600px;text-align:center;">0</div>
<div class="t" style="top:488.26px;font-size:28px;line-height:28px;font-weight:bold;color:#366092;left:1442.30px;width:600px;text-align:center;">7.</div>
<div class="t" style="top:488.26px;font-size:28px;line-height:28px;font-weight:normal;color:#366092;left:1641.60px;width:600px;text-align:center;">3</div>
<div class="t" style="top:488.26px;font-size:28px;line-height:28px;font-weight:normal;color:#366092;left:1841.00px;width:600px;text-align:center;">0</div>
<div class="t" style="top:524.59px;font-size:28px;line-height:28px;font-weight:bold;color:#366092;left:1442.30px;width:600px;text-align:center;">8.</div>
<div class="t" style="top:524.59px;font-size:28px;line-height:28px;font-weight:normal;color:#366092;left:1641.60px;width:600px;text-align:center;">30</div>
<div class="t" style="top:524.59px;font-size:28px;line-height:28px;font-weight:normal;color:#366092;left:1841.00px;width:600px;text-align:center;">14</div>
<div class="t" style="top:560.91px;font-size:28px;line-height:28px;font-weight:bold;color:#366092;left:1442.30px;width:600px;text-align:center;">9.</div>
<div class="t" style="top:560.91px;font-size:28px;line-height:28px;font-weight:normal;color:#366092;left:1641.60px;width:600px;text-align:center;">15</div>
<div class="t" style="top:560.91px;font-size:28px;line-height:28px;font-weight:normal;color:#366092;left:1841.00px;width:600px;text-align:center;">2</div>
<div class="t" style="top:597.24px;font-size:28px;line-height:28px;font-weight:bold;color:#366092;left:1442.30px;width:600px;text-align:center;">10.</div>
<div class="t" style="top:597.24px;font-size:28px;line-height:28px;font-weight:normal;color:#366092;left:1641.60px;width:600px;text-align:center;">7</div>
<div class="t" style="top:597.24px;font-size:28px;line-height:28px;font-weight:normal;color:#366092;left:1841.00px;width:600px;text-align:center;">2</div>
<div class="t" style="top:633.57px;font-size:28px;line-height:28px;font-weight:bold;color:#366092;left:1442.30px;width:600px;text-align:center;">11.</div>
<div class="t" style="top:633.57px;font-size:28px;line-height:28px;font-weight:normal;color:#366092;left:1641.60px;width:600px;text-align:center;">8</div>
<div class="t" style="top:633.57px;font-size:28px;line-height:28px;font-weight:normal;color:#366092;left:1841.00px;width:600px;text-align:center;">23</div>
<div class="t" style="top:669.89px;font-size:28px;line-height:28px;font-weight:bold;color:#366092;left:1442.30px;width:600px;text-align:center;">12.</div>
<div class="t" style="top:669.89px;font-size:28px;line-height:28px;font-weight:normal;color:#366092;left:1641.60px;width:600px;text-align:center;">20</div>
<div class="t" style="top:669.89px;font-size:28px;line-height:28px;font-weight:normal;color:#366092;left:1841.00px;width:600px;text-align:center;">28</div>
<div class="t" style="top:706.22px;font-size:28px;line-height:28px;font-weight:bold;color:#366092;left:1442.30px;width:600px;text-align:center;">13.</div>
<div class="t" style="top:706.22px;font-size:28px;line-height:28px;font-weight:normal;color:#366092;left:1641.60px;width:600px;text-align:center;">32</div>
<div class="t" style="top:706.22px;font-size:28px;line-height:28px;font-weight:normal;color:#366092;left:1841.00px;width:600px;text-align:center;">35</div>
<div class="t" style="top:742.55px;font-size:28px;line-height:28px;font-weight:bold;color:#366092;left:1442.30px;width:600px;text-align:center;">14.</div>
<div class="t" style="top:742.55px;font-size:28px;line-height:28px;font-weight:normal;color:#366092;left:1641.60px;width:600px;text-align:center;">34</div>
<div class="t" style="top:742.55px;font-size:28px;line-height:28px;font-weight:normal;color:#366092;left:1841.00px;width:600px;text-align:center;">30</div>
<div class="t" style="top:778.88px;font-size:28px;line-height:28px;font-weight:bold;color:#366092;left:1442.30px;width:600px;text-align:center;">15.</div>
<div class="t" style="top:778.88px;font-size:28px;line-height:28px;font-weight:normal;color:#366092;left:1641.60px;width:600px;text-align:center;">14</div>
<div class="t" style="top:778.88px;font-size:28px;line-height:28px;font-weight:normal;color:#366092;left:1841.00px;width:600px;text-align:center;">4</div>
<div class="t" style="top:815.20px;font-size:28px;line-height:28px;font-weight:bold;color:#366092;left:1442.30px;width:600px;text-align:center;">16.</div>
<div class="t" style="top:815.20px;font-size:28px;line-height:28px;font-weight:normal;color:#366092;left:1641.60px;width:600px;text-align:center;">27</div>
<div class="t" style="top:815.20px;font-size:28px;line-height:28px;font-weight:normal;color:#366092;left:1841.00px;width:600px;text-align:center;">3</div>
<div class="t" style="top:851.53px;font-size:28px;line-height:28px;font-weight:bold;color:#366092;left:1442.30px;width:600px;text-align:center;">17.</div>
<div class="t" style="top:851.53px;font-size:28px;line-height:28px;font-weight:normal;color:#366092;left:1641.60px;width:600px;text-align:center;">23</div>
<div class="t" style="top:851.53px;font-size:28px;line-height:28px;font-weight:normal;color:#366092;left:1841.00px;width:600px;text-align:center;">10</div>
<div class="t" style="top:887.86px;font-size:28px;line-height:28px;font-weight:bold;color:#366092;left:1442.30px;width:600px;text-align:center;">18.</div>
<div class="t" style="top:887.86px;font-size:28px;line-height:28px;font-weight:normal;color:#366092;left:1641.60px;width:600px;text-align:center;">2</div>
<div class="t" style="top:887.86px;font-size:28px;line-height:28px;font-weight:normal;color:#366092;left:1841.00px;width:600px;text-align:center;">0</div>
<div class="t" style="top:924.18px;font-size:28px;line-height:28px;font-weight:bold;color:#366092;left:1442.30px;width:600px;text-align:center;">19.</div>
<div class="t" style="top:924.18px;font-size:28px;line-height:28px;font-weight:normal;color:#366092;left:1641.60px;width:600px;text-align:center;">0</div>
<div class="t" style="top:924.18px;font-size:28px;line-height:28px;font-weight:normal;color:#366092;left:1841.00px;width:600px;text-align:center;">0</div>
<div class="t" style="top:960.51px;font-size:28px;line-height:28px;font-weight:bold;color:#366092;left:1442.30px;width:600px;text-align:center;">20.</div>
<div class="t" style="top:960.51px;font-size:28px;line-height:28px;font-weight:normal;color:#366092;left:1641.60px;width:600px;text-align:center;">14</div>
<div class="t" style="top:960.51px;font-size:28px;line-height:28px;font-weight:normal;color:#366092;left:1841.00px;width:600px;text-align:center;">26</div>
<div class="t" style="top:996.84px;font-size:28px;line-height:28px;font-weight:bold;color:#366092;left:1442.30px;width:600px;text-align:center;">21.</div>
<div class="t" style="top:996.84px;font-size:28px;line-height:28px;font-weight:normal;color:#366092;left:1641.60px;width:600px;text-align:center;">13</div>
<div class="t" style="top:996.84px;font-size:28px;line-height:28px;font-weight:normal;color:#366092;left:1841.00px;width:600px;text-align:center;">31</div>
<div class="t" style="top:1033.16px;font-size:28px;line-height:28px;font-weight:bold;color:#366092;left:1442.30px;width:600px;text-align:center;">22.</div>
<div class="t" style="top:1033.16px;font-size:28px;line-height:28px;font-weight:normal;color:#366092;left:1641.60px;width:600px;text-align:center;">14</div>
<div class="t" style="top:1033.16px;font-size:28px;line-height:28px;font-weight:normal;color:#366092;left:1841.00px;width:600px;text-align:center;">25</div>
<div class="t" style="top:1069.49px;font-size:28px;line-height:28px;font-weight:bold;color:#366092;left:1442.30px;width:600px;text-align:center;">23.</div>
<div class="t" style="top:1069.49px;font-size:28px;line-height:28px;font-weight:normal;color:#366092;left:1641.60px;width:600px;text-align:center;">9</div>
<div class="t" style="top:1069.49px;font-size:28px;line-height:28px;font-weight:normal;color:#366092;left:1841.00px;width:600px;text-align:center;">31</div>
<div class="t" style="top:1105.82px;font-size:28px;line-height:28px;font-weight:bold;color:#366092;left:1442.30px;width:600px;text-align:center;">24.</div>
<div class="t" style="top:1105.82px;font-size:28px;line-height:28px;font-weight:normal;color:#366092;left:1641.60px;width:600px;text-align:center;">5</div>
<div class="t" style="top:1105.82px;font-size:28px;line-height:28px;font-weight:normal;color:#366092;left:1841.00px;width:600px;text-align:center;">17</div>
<div class="t" style="top:1142.15px;font-size:28px;line-height:28px;font-weight:bold;color:#366092;left:1442.30px;width:600px;text-align:center;">25.</div>
<div class="t" style="top:1142.15px;font-size:28px;line-height:28px;font-weight:normal;color:#366092;left:1641.60px;width:600px;text-align:center;">17</div>
<div class="t" style="top:1142.15px;font-size:28px;line-height:28px;font-weight:normal;color:#366092;left:1841.00px;width:600px;text-align:center;">13</div>
<div class="t" style="top:1178.47px;font-size:28px;line-height:28px;font-weight:bold;color:#366092;left:1442.30px;width:600px;text-align:center;">26.</div>
<div class="t" style="top:1178.47px;font-size:28px;line-height:28px;font-weight:normal;color:#366092;left:1641.60px;width:600px;text-align:center;">16</div>
<div class="t" style="top:1178.47px;font-size:28px;line-height:28px;font-weight:normal;color:#366092;left:1841.00px;width:600px;text-align:center;">21</div>
<div class="t" style="top:1214.80px;font-size:28px;line-height:28px;font-weight:bold;color:#366092;left:1442.30px;width:600px;text-align:center;">27.</div>
<div class="t" style="top:1214.80px;font-size:28px;line-height:28px;font-weight:normal;color:#366092;left:1641.60px;width:600px;text-align:center;">29</div>
<div class="t" style="top:1214.80px;font-size:28px;line-height:28px;font-weight:normal;color:#366092;left:1841.00px;width:600px;text-align:center;">17</div>
<div class="t" style="top:1251.13px;font-size:28px;line-height:28px;font-weight:bold;color:#366092;left:1442.30px;width:600px;text-align:center;">28.</div>
<div class="t" style="top:1251.13px;font-size:28px;line-height:28px;font-weight:normal;color:#366092;left:1641.60px;width:600px;text-align:center;">32</div>
<div class="t" style="top:1251.13px;font-size:28px;line-height:28px;font-weight:normal;color:#366092;left:1841.00px;width:600px;text-align:center;">32</div>
<div class="t" style="top:1287.45px;font-size:28px;line-height:28px;font-weight:bold;color:#366092;left:1442.30px;width:600px;text-align:center;">29.</div>
<div class="t" style="top:1287.45px;font-size:28px;line-height:28px;font-weight:normal;color:#366092;left:1641.60px;width:600px;text-align:center;">30</div>
<div class="t" style="top:1287.45px;font-size:28px;line-height:28px;font-weight:normal;color:#366092;left:1841.00px;width:600px;text-align:center;">13</div>
<div class="t" style="top:1323.78px;font-size:28px;line-height:28px;font-weight:bold;color:#366092;left:1442.30px;width:600px;text-align:center;">30.</div>
<div class="t" style="top:1323.78px;font-size:28px;line-height:28px;font-weight:normal;color:#366092;left:1641.60px;width:600px;text-align:center;">18</div>
<div class="t" style="top:1323.78px;font-size:28px;line-height:28px;font-weight:normal;color:#366092;left:1841.00px;width:600px;text-align:center;">20</div>
<div class="t" style="top:1360.11px;font-size:28px;line-height:28px;font-weight:bold;color:#366092;left:1442.30px;width:600px;text-align:center;">31.</div>
<div class="t" style="top:1360.11px;font-size:28px;line-height:28px;font-weight:normal;color:#366092;left:1641.60px;width:600px;text-align:center;">34</div>
<div class="t" style="top:1360.11px;font-size:28px;line-height:28px;font-weight:normal;color:#366092;left:1841.00px;width:600px;text-align:center;">24</div>
<div class="t" style="top:1438.61px;font-size:29.4px;line-height:29.4px;font-weight:normal;color:#000;left:1692.00px;">Anzahl der Stationen mit Niederschlag</div>
<div class="t" style="top:1552.85px;font-size:29.0px;line-height:29.0px;font-weight:normal;color:#000;left:80.50px;">Großwetterlage / Zirkulationen</div>
<div class="t" style="top:1553.75px;font-size:27.7px;line-height:27.7px;font-weight:normal;color:#000;left:1121.00px;">Seite: 7</div>
<div class="t" style="top:1553.07px;font-size:28.74px;line-height:28.74px;font-weight:normal;color:#000;left:1957.80px;">Deutscher Wetterdienst</div>
</div></body></html>
